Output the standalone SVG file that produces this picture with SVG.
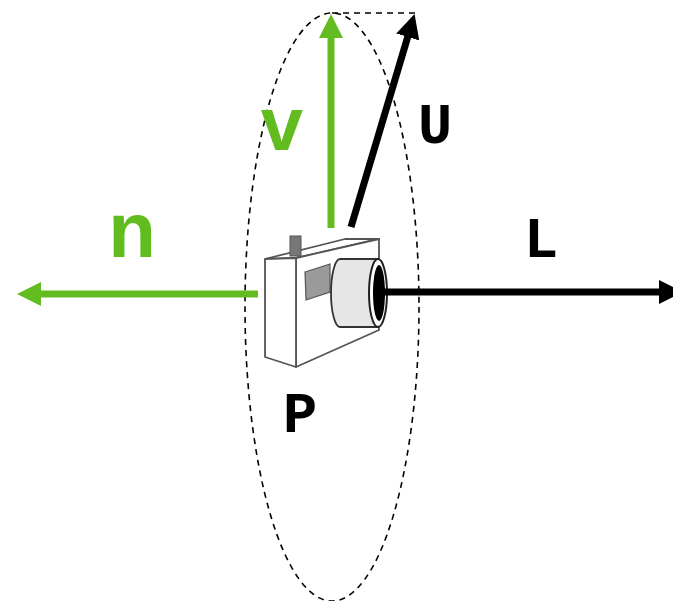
<svg xmlns="http://www.w3.org/2000/svg" width="673" height="601" viewBox="0 0 673 601">
  <style>
    .green { stroke: #62bb1f; fill: none; stroke-width: 7; }
    .black { stroke: #000; fill: none; stroke-width: 7; }
    .dash { stroke: #000; fill: none; stroke-width: 1.6; stroke-dasharray: 6 5; }
    .glabel { font-family: "Liberation Sans", Arial, sans-serif; font-weight: bold; fill: #62bb1f; text-anchor: middle; }
    .mlabel { font-family: "Liberation Mono", "DejaVu Sans Mono", monospace; font-weight: bold; fill: #000; text-anchor: middle; }
    .cam { stroke: #555; stroke-width: 1.8; fill: #fff; stroke-linejoin: round; }
  </style>
  <defs>
    <marker id="headGreen" viewBox="0 0 24 24" refX="1" refY="12" markerUnits="userSpaceOnUse" markerWidth="24" markerHeight="24" orient="auto">
      <path d="M0,0 L24,12 L0,24 z" fill="#62bb1f"/>
    </marker>
    <marker id="headBlack" viewBox="0 0 24 24" refX="1" refY="12" markerUnits="userSpaceOnUse" markerWidth="24" markerHeight="24" orient="auto">
      <path d="M0,0 L24,12 L0,24 z" fill="#000"/>
    </marker>
  </defs>

  <!-- orbit ellipse and top guide -->
  <g id="orbit">
    <ellipse class="dash" cx="332" cy="307" rx="87" ry="294"/>
    <line class="dash" x1="332" y1="13" x2="415" y2="13"/>
  </g>

  <!-- camera -->
  <g id="camera">
    <polygon class="cam" points="265,259 345,239 379,239 296,258"/>
    <polygon class="cam" points="296,258 379,239 379,330 296,367"/>
    <polygon class="cam" points="265,259 296,258 296,367 265,357"/>
    <rect x="290" y="236" width="11" height="20" fill="#777" stroke="#555" stroke-width="1"/>
    <polygon points="305,272 330,264 330,292 306,300" fill="#9a9a9a" stroke="#555" stroke-width="1.2"/>
    <path d="M340,259 L378,259 L378,327 L340,327 A9,34 0 0 1 340,259 z" fill="#e6e6e6" stroke="#333" stroke-width="1.8"/>
    <ellipse cx="378" cy="293" rx="9" ry="34" fill="#fff" stroke="#222" stroke-width="2"/>
    <ellipse cx="379" cy="293" rx="6" ry="28" fill="#000"/>
  </g>

  <!-- vectors -->
  <g id="connectors">
    <line class="green" x1="331" y1="228" x2="331" y2="37" marker-end="url(#headGreen)"/>
    <line class="green" x1="258" y1="294" x2="40" y2="294" marker-end="url(#headGreen)"/>
    <line class="black" x1="351" y1="227" x2="408" y2="36" marker-end="url(#headBlack)"/>
    <line class="black" x1="378" y1="292" x2="660" y2="292" marker-end="url(#headBlack)"/>
  </g>

  <!-- labels -->
  <g id="label-v"><text class="glabel" x="282" y="150" font-size="76">v</text></g>
  <g id="label-n"><text class="glabel" x="132" y="257" font-size="78">n</text></g>
  <g id="label-U"><text class="mlabel" x="435" y="143" font-size="57">U</text></g>
  <g id="label-L"><text class="mlabel" x="541" y="257" font-size="57">L</text></g>
  <g id="label-P"><text class="mlabel" x="300" y="432" font-size="57">P</text></g>
</svg>
